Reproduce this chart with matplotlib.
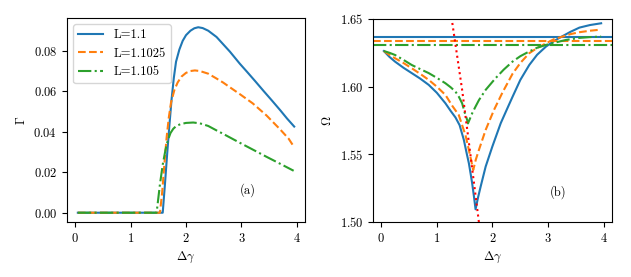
import matplotlib
matplotlib.use('Agg')
import matplotlib.pyplot as plt

plt.rcParams['font.family'] = 'serif'
plt.rcParams['font.serif'] = ['cmr10']
plt.rcParams['mathtext.fontset'] = 'cm'
plt.rcParams['axes.formatter.use_mathtext'] = True
plt.rcParams['font.size'] = 9

labels = ['L=1.1', 'L=1.1025', 'L=1.105']
colors = ['#1f77b4', '#ff7f0e', '#2ca02c']
styles = ['-', '--', '-.']

# panel (a): Gamma vs delta gamma
g1_x = [0.05, 0.5, 1.0, 1.5, 1.58, 1.62, 1.66, 1.70, 1.74, 1.78, 1.82, 1.88, 1.94, 2.0, 2.08,
        2.15, 2.22, 2.3, 2.4, 2.55, 2.67, 2.79, 2.97, 3.1, 3.25, 3.4, 3.55, 3.7, 3.82, 3.95]
g1_y = [0, 0, 0, 0, 0, 0.014, 0.029, 0.043, 0.056, 0.0665, 0.0745, 0.0805, 0.0848, 0.0876, 0.0898,
        0.0910, 0.0915, 0.0911, 0.0898, 0.0867, 0.0831, 0.0795, 0.0735, 0.0695, 0.0648, 0.0600,
        0.0553, 0.0505, 0.0465, 0.0425]
g2_x = [0.05, 0.5, 1.0, 1.53, 1.57, 1.61, 1.65, 1.69, 1.73, 1.79, 1.85, 1.92, 2.0, 2.08, 2.16,
        2.25, 2.4, 2.55, 2.67, 2.79, 2.97, 3.2, 3.45, 3.7, 3.85, 3.95]
g2_y = [0, 0, 0, 0, 0.010, 0.024, 0.037, 0.047, 0.0544, 0.0605, 0.0643, 0.0672, 0.0690, 0.0699,
        0.0702, 0.0699, 0.0686, 0.0662, 0.0642, 0.0619, 0.0585, 0.054, 0.048, 0.041, 0.0365, 0.0323]
g3_x = [0.05, 0.5, 1.0, 1.47, 1.50, 1.53, 1.58, 1.63, 1.67, 1.72, 1.77, 1.82, 1.9, 2.0, 2.13,
        2.25, 2.4, 2.55, 2.67, 2.82, 2.97, 3.2, 3.45, 3.7, 3.94]
g3_y = [0, 0, 0, 0, 0.007, 0.014, 0.0237, 0.031, 0.0355, 0.0393, 0.0414, 0.0427, 0.0437, 0.0443,
        0.0445, 0.0441, 0.0428, 0.0406, 0.0389, 0.0367, 0.0345, 0.0312, 0.0276, 0.0241, 0.0207]

# panel (b): Omega vs delta gamma
w1_x = [0.05, 0.15, 0.25, 0.4, 0.55, 0.7, 0.855, 1.0, 1.155, 1.25, 1.336, 1.41, 1.486, 1.53,
        1.576, 1.61, 1.635, 1.67, 1.696, 1.74, 1.787, 1.877, 1.997, 2.148, 2.267, 2.36, 2.5,
        2.66, 2.8, 2.96, 3.1, 3.2, 3.4, 3.56, 3.75, 3.95]
w1_y = [1.6263, 1.622, 1.6185, 1.614, 1.610, 1.606, 1.6013, 1.5955, 1.5877, 1.582, 1.5772,
        1.5715, 1.5606, 1.552, 1.5434, 1.535, 1.5286, 1.518, 1.5094, 1.518, 1.5261, 1.5409,
        1.5557, 1.573, 1.584, 1.5925, 1.605, 1.616, 1.6235, 1.6296, 1.6335, 1.636, 1.6405,
        1.6436, 1.6455, 1.6468]
w2_x = [0.05, 0.15, 0.25, 0.4, 0.55, 0.7, 0.855, 1.0, 1.155, 1.275, 1.395, 1.455, 1.516, 1.576,
        1.62, 1.654, 1.70, 1.756, 1.877, 2.027, 2.177, 2.36, 2.5, 2.66, 2.8, 2.96, 3.1, 3.26,
        3.4, 3.56, 3.75, 3.92]
w2_y = [1.6263, 1.6235, 1.621, 1.6175, 1.6136, 1.6095, 1.605, 1.600, 1.5939, 1.586, 1.579,
        1.5715, 1.564, 1.5532, 1.545, 1.5384, 1.546, 1.5532, 1.568, 1.5828, 1.5955, 1.6095,
        1.6175, 1.6247, 1.6285, 1.632, 1.635, 1.637, 1.6388, 1.6402, 1.6413, 1.642]
w3_x = [0.05, 0.15, 0.25, 0.4, 0.55, 0.7, 0.855, 1.0, 1.155, 1.25, 1.336, 1.395, 1.455, 1.5,
        1.545, 1.56, 1.635, 1.696, 1.756, 1.877, 2.05, 2.2, 2.36, 2.5, 2.66, 2.8, 2.96, 3.15,
        3.32, 3.56, 3.75, 3.95]
w3_y = [1.6263, 1.625, 1.6234, 1.6198, 1.616, 1.613, 1.610, 1.6065, 1.6025, 1.5995, 1.5963,
        1.5926, 1.5877, 1.581, 1.5754, 1.5728, 1.5803, 1.5853, 1.590, 1.5976, 1.606, 1.6125,
        1.6185, 1.6225, 1.626, 1.6287, 1.6308, 1.6328, 1.6345, 1.636, 1.6366, 1.637]
w_flat = [1.637, 1.634, 1.631]
red_x = [1.25, 1.455, 1.60, 1.78]
red_y = [1.6551, 1.5976, 1.551, 1.492]

fig = plt.figure(figsize=(6.31, 2.77), dpi=100)
ax1 = fig.add_axes([0.1062, 0.1986, 0.3772, 0.7365])
ax2 = fig.add_axes([0.5911, 0.1986, 0.3788, 0.733])

for xs, ys, c, s, lab in zip([g1_x, g2_x, g3_x], [g1_y, g2_y, g3_y], colors, styles, labels):
    ax1.plot(xs, ys, color=c, ls=s, lw=1.5, label=lab)
ax1.set_yticks([0, 0.02, 0.04, 0.06, 0.08])
ax1.set_xticks([0, 1, 2, 3, 4])
ax1.set_xlabel(r'$\Delta\gamma$')
ax1.set_ylabel(r'$\Gamma$')
ax1.legend(loc='upper left')
ax1.text(3.12, 0.0113, '(a)', ha='center', va='center')

for xs, ys, c, s, h in zip([w1_x, w2_x, w3_x], [w1_y, w2_y, w3_y], colors, styles, w_flat):
    ax2.plot(xs, ys, color=c, ls=s, lw=1.5)
    ax2.axhline(h, color=c, ls=s, lw=1.5)
ax2.plot(red_x, red_y, color='red', ls=':', lw=1.5)
ax2.set_ylim(1.5, 1.65)
ax2.set_xlim(-0.145, 4.145)
ax2.set_yticks([1.50, 1.55, 1.60, 1.65])
ax2.set_xticks([0, 1, 2, 3, 4])
ax2.set_xlabel(r'$\Delta\gamma$')
ax2.set_ylabel(r'$\Omega$')
ax2.text(3.17, 1.5217, '(b)', ha='center', va='center')

fig.savefig('out.png', dpi=100)
